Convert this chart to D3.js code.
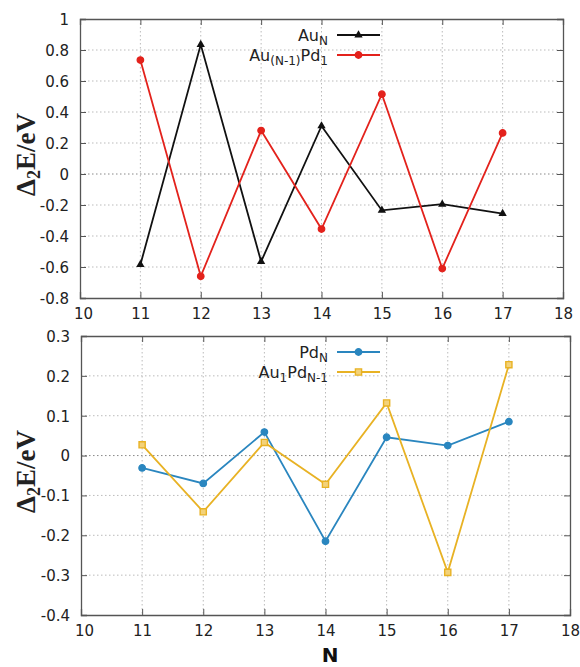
<!DOCTYPE html>
<html>
<head>
<meta charset="utf-8">
<script src="https://cdn.jsdelivr.net/npm/d3@7"></script>
<style>
  body { margin: 0; background: #fff; }
  svg { display: block; }
  .tick text { font-family: "DejaVu Sans", Verdana, sans-serif; font-size: 15px; fill: #222; }
  .legend text { font-family: "DejaVu Sans", Verdana, sans-serif; font-size: 16px; fill: #222; }
</style>
</head>
<body>
<div id="chart"></div>
<script>
// data
let sizes = [11, 12, 13, 14, 15, 16, 17];
let auN = [-0.585, 0.835, -0.565, 0.31, -0.235, -0.195, -0.255];
let auPd1 = [0.735, -0.66, 0.28, -0.355, 0.515, -0.61, 0.265];
let pdN = [-0.031, -0.07, 0.059, -0.215, 0.046, 0.025, 0.085];
let au1Pd = [0.027, -0.141, 0.033, -0.072, 0.132, -0.293, 0.228];
let xTicks = [10, 11, 12, 13, 14, 15, 16, 17, 18];
let yTicksTop = [-0.8, -0.6, -0.4, -0.2, 0, 0.2, 0.4, 0.6, 0.8, 1];
let yTicksBottom = [-0.4, -0.3, -0.2, -0.1, 0, 0.1, 0.2, 0.3];

let svg = d3.select(`#chart`).append(`svg`)
    .attr(`width`, 580)
    .attr(`height`, 667);

//one panel of the figure
function drawPanel(opt) {
    let x = d3.scaleLinear().domain([10, 18]).range([opt.left, opt.right]);
    let y = d3.scaleLinear().domain(opt.yDomain).range([opt.bottom, opt.top]);
    let g = svg.append(`g`);

    //grid
    g.append(`g`).selectAll(`line`).data(xTicks.slice(1, -1)).enter().append(`line`)
        .attr(`x1`, d => x(d)).attr(`x2`, d => x(d))
        .attr(`y1`, opt.top).attr(`y2`, opt.bottom)
        .attr(`stroke`, `#bbb`).attr(`stroke-width`, 1).attr(`stroke-dasharray`, `1.5,2.5`);
    g.append(`g`).selectAll(`line`).data(opt.yTicks.slice(1, -1)).enter().append(`line`)
        .attr(`x1`, opt.left).attr(`x2`, opt.right)
        .attr(`y1`, d => y(d)).attr(`y2`, d => y(d))
        .attr(`stroke`, d => d === 0 ? `#888` : `#bbb`).attr(`stroke-width`, 1).attr(`stroke-dasharray`, `1.5,2.5`);

    //axes with inward ticks, plain hyphen minus like the original
    let fmt = d => String(d);
    let ax = g.append(`g`).attr(`transform`, `translate(0,${opt.bottom})`)
        .call(d3.axisBottom(x).tickValues(xTicks).tickSize(-6).tickPadding(16).tickFormat(fmt));
    ax.selectAll(`.tick text`).attr(`dy`, `0.35em`);
    ax.select(`.tick text`).attr(`dx`, 3);
    g.append(`g`).attr(`transform`, `translate(0,${opt.top})`)
        .call(d3.axisTop(x).tickValues(xTicks).tickSize(-6).tickFormat(``));
    let ay = g.append(`g`).attr(`transform`, `translate(${opt.left},0)`)
        .call(d3.axisLeft(y).tickValues(opt.yTicks).tickSize(-6).tickPadding(11).tickFormat(fmt));
    ay.selectAll(`.tick text`).attr(`dy`, `0.36em`);
    g.append(`g`).attr(`transform`, `translate(${opt.right},0)`)
        .call(d3.axisRight(y).tickValues(opt.yTicks).tickSize(-6).tickFormat(``));
    g.selectAll(`.domain`).attr(`stroke`, `#555`).attr(`stroke-width`, 1.3);
    g.selectAll(`.tick line`).attr(`stroke`, `#555`);

    //y label
    let lab = g.append(`text`)
        .attr(`transform`, `translate(35,${(opt.top + opt.bottom) / 2 - 4}) rotate(-90)`)
        .attr(`text-anchor`, `middle`)
        .attr(`font-family`, `"Liberation Serif", "DejaVu Serif", serif`)
        .attr(`font-weight`, `bold`).attr(`font-size`, 27).attr(`fill`, `#222`);
    lab.append(`tspan`).text(`Δ`);
    lab.append(`tspan`).attr(`font-size`, 18).attr(`dy`, 5).text(`2`);
    lab.append(`tspan`).attr(`dy`, -5).text(`E/eV`);

    let line = d3.line().x((d, i) => x(sizes[i])).y(d => y(d));

    opt.series.forEach((s, k) => {
        g.append(`path`).datum(s.values)
            .attr(`fill`, `none`).attr(`stroke`, s.color).attr(`stroke-width`, 1.8)
            .attr(`d`, line);
        let pts = g.append(`g`).selectAll(`path`).data(s.values).enter().append(`path`)
            .attr(`transform`, (d, i) => `translate(${x(sizes[i])},${y(d)})`);
        styleMarker(pts, s);

        //legend row
        let ly = opt.legendY + k * 20;
        let leg = g.append(`g`).attr(`class`, `legend`);
        let t = leg.append(`text`).attr(`x`, 328).attr(`y`, ly + 6).attr(`text-anchor`, `end`);
        s.label.forEach(p => {
            t.append(`tspan`).attr(`font-size`, p[1] ? 12 : 16).attr(`dy`, p[1] ? 4 : (p[2] ? -4 : 0)).text(p[0]);
        });
        leg.append(`line`).attr(`x1`, 337).attr(`x2`, 380).attr(`y1`, ly).attr(`y2`, ly)
            .attr(`stroke`, s.color).attr(`stroke-width`, 1.8);
        let m = leg.append(`path`).attr(`transform`, `translate(358.5,${ly})`);
        styleMarker(m, s);
    });
}

function styleMarker(sel, s) {
    if (s.shape === `triangle`) {
        sel.attr(`d`, d3.symbol(d3.symbolTriangle, 30)).attr(`fill`, s.color);
    } else if (s.shape === `square`) {
        sel.attr(`d`, d3.symbol(d3.symbolSquare, 38)).attr(`fill`, s.fill).attr(`stroke`, s.color).attr(`stroke-width`, 1.4);
    } else {
        sel.attr(`d`, d3.symbol(d3.symbolCircle, 34)).attr(`fill`, s.fill).attr(`stroke`, s.color).attr(`stroke-width`, 1.2);
    }
}

drawPanel({
    left: 80, right: 563, top: 19, bottom: 298,
    yDomain: [-0.8, 1], yTicks: yTicksTop, legendY: 35,
    series: [
        {values: auN, color: `#111`, fill: `#111`, shape: `triangle`, label: [[`Au`], [`N`, 1]]},
        {values: auPd1, color: `#e3221c`, fill: `#e3221c`, shape: `circle`, label: [[`Au`], [`(N-1)`, 1], [`Pd`, 0, 1], [`1`, 1]]}
    ]
});

drawPanel({
    left: 81, right: 570, top: 336, bottom: 615,
    yDomain: [-0.4, 0.3], yTicks: yTicksBottom, legendY: 352,
    series: [
        {values: pdN, color: `#2a86bf`, fill: `#2a86bf`, shape: `circle`, label: [[`Pd`], [`N`, 1]]},
        {values: au1Pd, color: `#e8b224`, fill: `#f3d27a`, shape: `square`, label: [[`Au`], [`1`, 1], [`Pd`, 0, 1], [`N-1`, 1]]}
    ]
});

//x label
svg.append(`text`).attr(`x`, 330).attr(`y`, 662).attr(`text-anchor`, `middle`)
    .attr(`font-family`, `"DejaVu Sans", sans-serif`).attr(`font-weight`, `bold`)
    .attr(`font-size`, 20).attr(`fill`, `#111`).text(`N`);
</script>
</body>
</html>
